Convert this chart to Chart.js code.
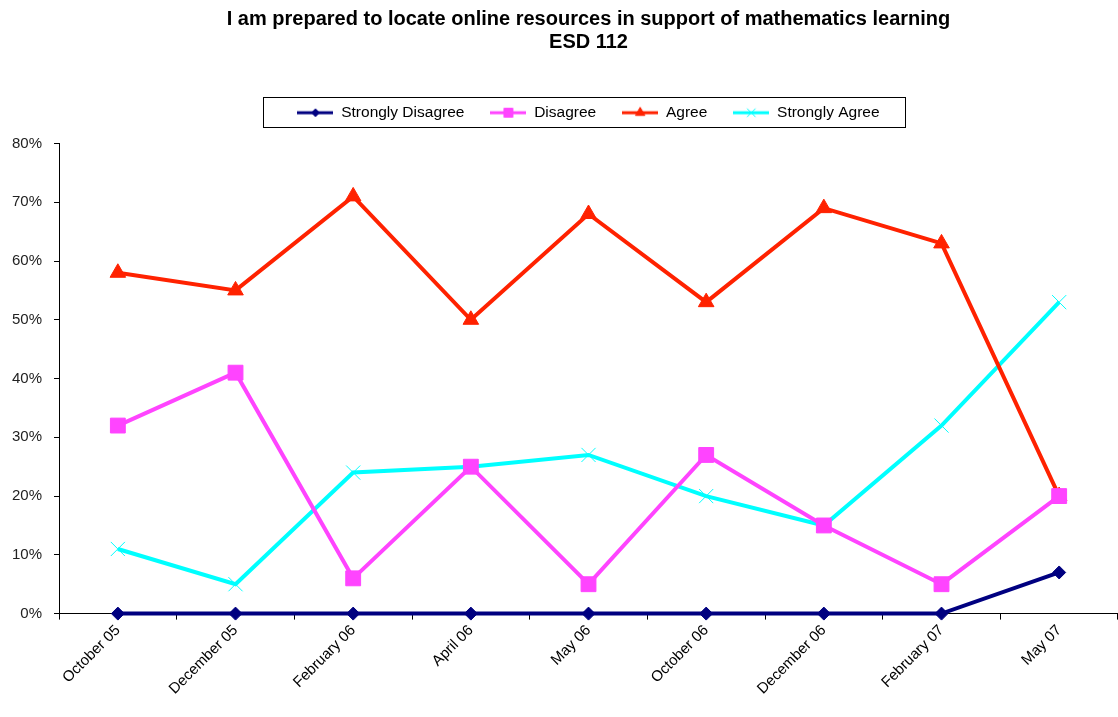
<!DOCTYPE html>
<html>
<head>
<meta charset="utf-8">
<script src="https://cdn.jsdelivr.net/npm/chart.js@4.4.1/dist/chart.umd.min.js"></script>
<style>
  html, body { margin: 0; padding: 0; background: #fff; }
  #wrap { width: 1118px; height: 717px; }
</style>
</head>
<body>
<div id="wrap"><canvas id="chart"></canvas></div>
<script>
// data
const categories = ['October 05', 'December 05', 'February 06', 'April 06', 'May 06',
                    'October 06', 'December 06', 'February 07', 'May 07'];
const stronglyDisagree = [0, 0, 0, 0, 0, 0, 0, 0, 7];
const disagree = [32, 41, 6, 25, 5, 27, 15, 5, 20];
const agree = [58, 55, 71, 50, 68, 53, 69, 63, 20];
const stronglyAgree = [11, 5, 24, 25, 27, 20, 15, 32, 53];
const yMin = 0, yMax = 80, yStep = 10;

const FONT = "'Liberation Sans', Arial, sans-serif";

// legend icon: a short line with the series marker in the middle
function makeIcon(color, style, radius, borderWidth) {
    const c = document.createElement('canvas');
    c.width = 36; c.height = 16;
    const ctx = c.getContext('2d');
    ctx.strokeStyle = color;
    ctx.lineWidth = 3;
    ctx.beginPath(); ctx.moveTo(0, 8); ctx.lineTo(36, 8); ctx.stroke();
    ctx.fillStyle = color;
    ctx.lineWidth = borderWidth;
    Chart.helpers.drawPoint(ctx, { pointStyle: style, radius: radius, rotation: 0, borderWidth: borderWidth }, 18, 8);
    return c;
}

const series = [
    { label: 'Strongly Disagree', data: stronglyDisagree, color: '#000080', style: 'rectRot', r: 6.5, bw: 1 },
    { label: 'Disagree', data: disagree, color: '#FF44FF', style: 'rect', r: 10.5, bw: 1 },
    { label: 'Agree', data: agree, color: '#FF2200', style: 'triangle', r: 9, bw: 1 },
    { label: 'Strongly Agree', data: stronglyAgree, color: '#00FFFF', style: 'crossRot', r: 10, bw: 1 }
];

// extra room under the legend, and a frame round its items
const legendBorder = {
    id: 'legendBorder',
    beforeInit(chart) {
        const fit = chart.legend.fit;
        chart.legend.fit = function () {
            fit.call(this);
            this.height += 13;
        };
    },
    afterDraw(chart) {
        const boxes = chart.legend.legendHitBoxes;
        if (!boxes || !boxes.length) return;
        let l = Infinity, r = -Infinity, t = Infinity, b = -Infinity;
        boxes.forEach(h => {
            l = Math.min(l, h.left); r = Math.max(r, h.left + h.width);
            t = Math.min(t, h.top); b = Math.max(b, h.top + h.height);
        });
        const ctx = chart.ctx;
        ctx.save();
        ctx.strokeStyle = '#000';
        ctx.lineWidth = 1;
        ctx.strokeRect(Math.round(l - 34) + 0.5, Math.round(t - 8) + 0.5, Math.round(r - l + 60), 30);
        ctx.restore();
    }
};

new Chart(document.getElementById('chart').getContext('2d'), {
    type: 'line',
    data: {
        labels: categories,
        datasets: series.map(s => ({
            label: s.label,
            data: s.data,
            borderColor: s.color,
            backgroundColor: s.color,
            borderWidth: 4,
            pointStyle: s.style,
            pointRadius: s.r,
            pointHoverRadius: s.r,
            pointBorderWidth: s.bw,
            pointBackgroundColor: s.color,
            pointBorderColor: s.color,
            tension: 0,
            clip: false,
            legendIcon: makeIcon(s.color, s.style, s.r * 0.6, s.bw)
        }))
    },
    options: {
        responsive: true,
        maintainAspectRatio: false,
        animation: false,
        layout: { autoPadding: false, padding: { left: 0, right: 0, top: 8, bottom: 17 } },
        plugins: {
            title: {
                display: true,
                fullSize: false,
                text: ['I am prepared to locate online resources in support of mathematics learning', 'ESD 112'],
                color: '#000',
                font: { family: FONT, size: 20, weight: 'bold', lineHeight: 1.15 },
                padding: { top: 0, bottom: 25 }
            },
            legend: {
                display: true,
                fullSize: false,
                position: 'top',
                labels: {
                    color: '#000',
                    font: { family: FONT, size: 15.5 },
                    usePointStyle: true,
                    pointStyleWidth: 36,
                    boxHeight: 14,
                    padding: 26,
                    generateLabels(chart) {
                        return chart.data.datasets.map((ds, i) => ({
                            text: ds.label,
                            fillStyle: ds.borderColor,
                            strokeStyle: ds.borderColor,
                            fontColor: '#000',
                            lineWidth: 0,
                            pointStyle: ds.legendIcon,
                            hidden: !chart.isDatasetVisible(i),
                            datasetIndex: i
                        }));
                    }
                }
            },
            tooltip: { enabled: false }
        },
        scales: {
            x: {
                offset: true,
                afterFit(scale) { scale.paddingRight = 0; },
                border: { color: '#000', width: 1 },
                grid: { display: true, offset: true, drawOnChartArea: false, drawTicks: true, tickLength: 6, color: '#000' },
                ticks: {
                    color: '#000',
                    font: { family: FONT, size: 15 },
                    maxRotation: 45,
                    minRotation: 45,
                    autoSkip: false,
                    padding: 2
                }
            },
            y: {
                min: yMin,
                max: yMax,
                border: { color: '#000', width: 1 },
                grid: { display: true, drawOnChartArea: false, drawTicks: true, tickLength: 5, color: '#000' },
                ticks: {
                    stepSize: yStep,
                    color: '#222',
                    font: { family: FONT, size: 15 },
                    padding: 12,
                    callback: v => v + '%'
                }
            }
        }
    },
    plugins: [legendBorder]
});
</script>
</body>
</html>
